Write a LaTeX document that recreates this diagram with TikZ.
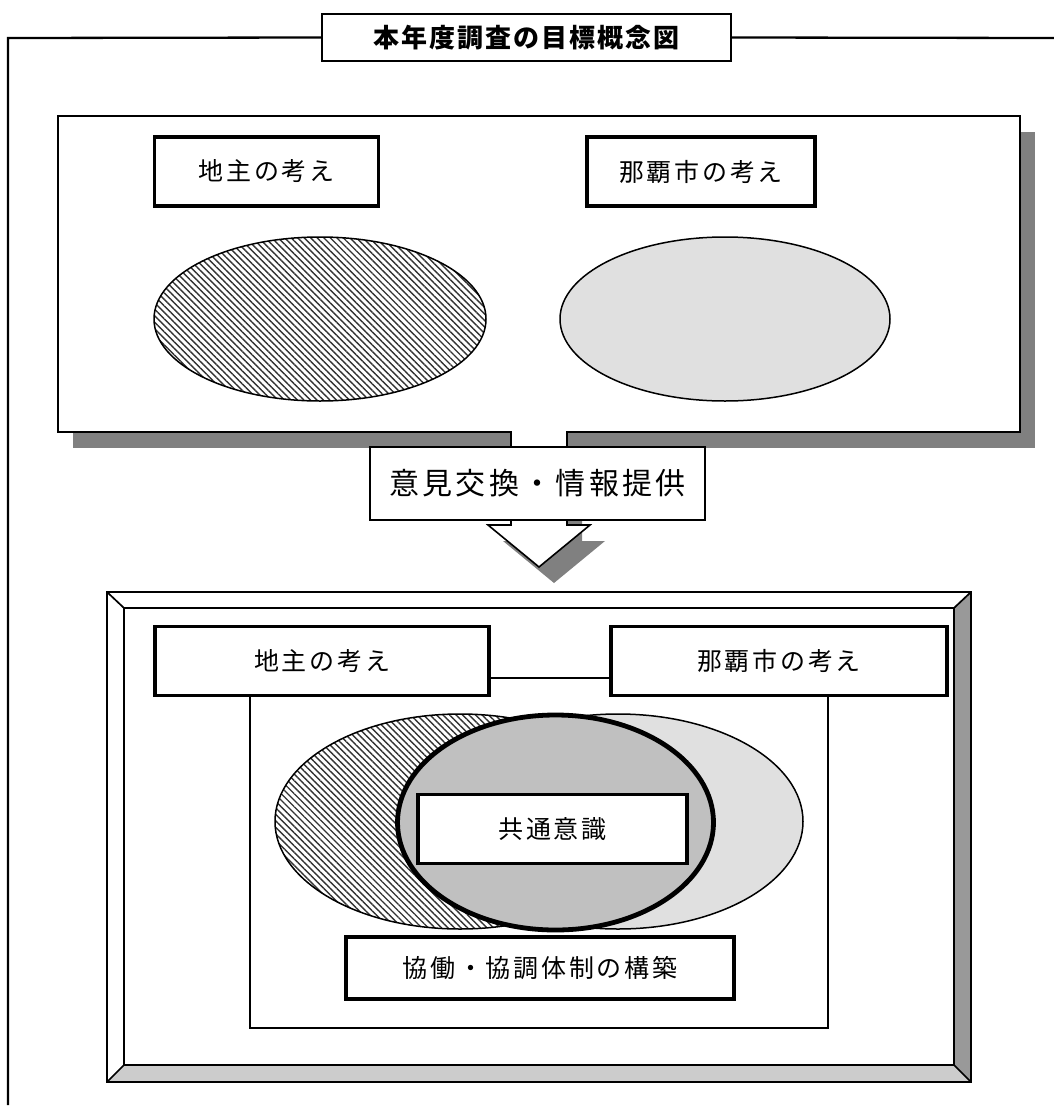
\documentclass[tikz,border=0pt]{standalone}
\usepackage{fontspec}
\setmainfont{Noto Sans CJK JP}
\newfontfamily\lblfont{Noto Sans CJK JP}[LetterSpace=11]
\newfontfamily\ttlfont{Noto Sans CJK JP}[LetterSpace=8]
\usetikzlibrary{shapes.geometric,patterns.meta}
\definecolor{shadowgray}{HTML}{808080}
\definecolor{lightell}{HTML}{E0E0E0}
\definecolor{commongray}{HTML}{C0C0C0}
\definecolor{bevelright}{HTML}{999999}
\definecolor{bevelbottom}{HTML}{CCCCCC}
\begin{document}
\begin{tikzpicture}[x=1pt,y=1pt,
  lbox/.style={draw, line width=3.8pt, fill=white, inner sep=0pt, minimum height=69pt,
     font=\lblfont\fontsize{25}{25}\selectfont},
  ell/.style={ellipse, draw, line width=1.5pt, inner sep=0pt},
  hatch/.style={preaction={fill=white}, pattern={Lines[angle=-45,distance=4.6pt,line width=1.4pt]}, pattern color=black!80},
  frameline/.style={line width=2.3pt}
]
\useasboundingbox (0,0) rectangle (1054,-1111);

% title and outer frame
\node[draw, frameline, fill=white, minimum width=409pt, minimum height=47pt, inner sep=0pt,
      font=\ttlfont\bfseries\fontsize{26}{26}\selectfont] (title) at (526.5,-37.5) {本年度調査の目標概念図};
\coordinate (frTL) at (8,-38);
\coordinate (frBL) at (8,-1105);
\coordinate (frR) at (1054,-38);
\draw[frameline] (title.west) -- (frTL) -- (frBL);
\draw[frameline] (title.east) -- (frR);

% top box with shadow
\node[fill=shadowgray, minimum width=962pt, minimum height=316pt, inner sep=0pt] (topshadow) at (554,-290) {};
\node[draw, frameline, fill=white, minimum width=962pt, minimum height=316pt, inner sep=0pt] (topbox) at (539,-274) {};

\node[lbox, minimum width=224pt] (tA) at (266.5,-171.5) {地主の考え};
\node[lbox, minimum width=228pt] (tB) at (701,-171.5) {那覇市の考え};
\node[ell, hatch, minimum width=332pt, minimum height=164pt] (eA) at (320,-319) {};
\node[ell, fill=lightell, minimum width=330pt, minimum height=164pt] (eB) at (725,-319) {};

% arrow
\coordinate (aTL) at (511,-431);
\coordinate (aTR) at (567,-431);
\coordinate (aNL) at (511,-525);
\coordinate (aNR) at (567,-525);
\coordinate (aWL) at (488,-525);
\coordinate (aWR) at (590,-525);
\coordinate (aTip) at (539,-567);
\fill[shadowgray] ([shift={(15pt,-16pt)}]aTL) -- ([shift={(15pt,-16pt)}]aNL) -- ([shift={(15pt,-16pt)}]aWL)
   -- ([shift={(15pt,-16pt)}]aTip) -- ([shift={(15pt,-16pt)}]aWR) -- ([shift={(15pt,-16pt)}]aNR)
   -- ([shift={(15pt,-16pt)}]aTR) -- cycle;
\fill[white] ([yshift=3pt]aTL) -- (aNL) -- (aWL) -- (aTip) -- (aWR) -- (aNR) -- ([yshift=3pt]aTR) -- cycle;
\draw[line width=1.6pt, line join=miter] (aTL) -- (aNL) -- (aWL) -- (aTip) -- (aWR) -- (aNR) -- (aTR);
\node[draw, line width=1.8pt, fill=white, minimum width=335pt, minimum height=73pt, inner sep=0pt,
      font=\lblfont\fontsize{30}{30}\selectfont] (exch) at (537.5,-483.5) {意見交換・情報提供};

% bottom bevelled frame
\coordinate (o1) at (107,-592);
\coordinate (o2) at (971,-592);
\coordinate (o3) at (971,-1082);
\coordinate (o4) at (107,-1082);
\coordinate (i1) at (124,-608);
\coordinate (i2) at (954,-608);
\coordinate (i3) at (954,-1065);
\coordinate (i4) at (124,-1065);
\fill[bevelright] (o2) -- (o3) -- (i3) -- (i2) -- cycle;
\fill[bevelbottom] (o4) -- (o3) -- (i3) -- (i4) -- cycle;
\draw[line width=1.7pt] (o1) -- (o2) -- (o3) -- (o4) -- cycle;
\draw[line width=1.7pt] (i1) -- (i2) -- (i3) -- (i4) -- cycle;
\draw[line width=1.7pt] (o1) -- (i1) (o2) -- (i2) (o3) -- (i3) (o4) -- (i4);

% inner thin frame
\node[draw, line width=1.5pt, minimum width=578pt, minimum height=350pt, inner sep=0pt] (inner) at (539,-853) {};

\node[lbox, minimum width=334pt] (bA) at (322,-661) {地主の考え};
\node[lbox, minimum width=336pt] (bB) at (779,-661) {那覇市の考え};

\node[ell, fill=lightell, minimum width=370pt, minimum height=215pt] (ebB) at (618,-821.5) {};
\node[ell, hatch, minimum width=370pt, minimum height=215pt] (ebA) at (460,-821.5) {};
\node[ellipse, draw, line width=4.8pt, fill=commongray, minimum width=316pt, minimum height=215pt, inner sep=0pt] (common) at (555.5,-822.5) {};

\node[lbox, minimum width=269pt] (kyotsu) at (552.5,-829) {共通意識};
\node[lbox, minimum width=388pt, minimum height=62pt] (kyodo) at (540,-968) {協働・協調体制の構築};
\end{tikzpicture}
\end{document}
